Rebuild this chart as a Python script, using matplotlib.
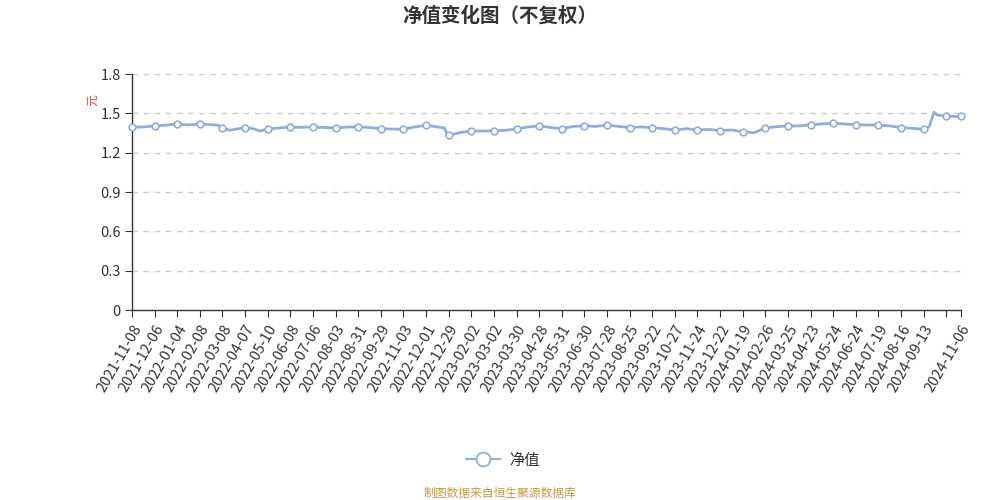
import numpy as np
import matplotlib
matplotlib.use('Agg')
import matplotlib.pyplot as plt
from matplotlib.lines import Line2D

plt.rcParams['font.family'] = ['Noto Sans CJK SC', 'DejaVu Sans']
plt.rcParams['axes.unicode_minus'] = False

# 交易日序号 与 对应净值
day_idx = [0, 10, 20, 30, 40, 50, 60, 70, 76, 80, 86, 100, 108, 113, 120, 130, 140, 150,
           160, 170, 180, 190, 200, 210, 220, 230, 240, 250, 260, 270, 276, 279, 280, 290,
           300, 310, 320, 330, 340, 350, 360, 370, 380, 390, 400, 410, 420, 430, 440, 450,
           460, 470, 480, 490, 500, 510, 520, 530, 540, 550, 560, 570, 580, 590, 600, 610,
           620, 630, 640, 650, 660, 670, 680, 690, 700, 705, 709, 712, 720, 730, 733]
nav = [1.394, 1.396, 1.404, 1.410, 1.419, 1.411, 1.419, 1.414, 1.410, 1.388, 1.371, 1.391,
       1.381, 1.365, 1.381, 1.388, 1.396, 1.394, 1.396, 1.392, 1.388, 1.395, 1.398, 1.392,
       1.383, 1.380, 1.378, 1.396, 1.409, 1.396, 1.390, 1.336, 1.333, 1.353, 1.365, 1.365,
       1.368, 1.370, 1.381, 1.396, 1.404, 1.392, 1.383, 1.400, 1.404, 1.400, 1.411, 1.400,
       1.391, 1.396, 1.391, 1.383, 1.373, 1.383, 1.373, 1.378, 1.368, 1.373, 1.360, 1.352,
       1.388, 1.398, 1.404, 1.404, 1.413, 1.419, 1.424, 1.419, 1.413, 1.411, 1.411, 1.404,
       1.391, 1.386, 1.378, 1.400, 1.508, 1.487, 1.480, 1.475, 1.482]

tick_dates = ['2021-11-08', '2021-12-06', '2022-01-04', '2022-02-08', '2022-03-08', '2022-04-07',
              '2022-05-10', '2022-06-08', '2022-07-06', '2022-08-03', '2022-08-31', '2022-09-29',
              '2022-11-03', '2022-12-01', '2022-12-29', '2023-02-02', '2023-03-02', '2023-03-30',
              '2023-04-28', '2023-05-31', '2023-06-30', '2023-07-28', '2023-08-25', '2023-09-22',
              '2023-10-27', '2023-11-24', '2023-12-22', '2024-01-19', '2024-02-26', '2024-03-25',
              '2024-04-23', '2024-05-24', '2024-06-24', '2024-07-19', '2024-08-16', '2024-09-13',
              '', '2024-11-06']
tick_step = 20

line_color = '#8eade0'
x = np.array(day_idx)
y = np.array(nav)
last = x[-1]
tick_pos = list(range(0, last, tick_step)) + [last]

fig = plt.figure(figsize=(10, 5), dpi=100)
ax = fig.add_axes([0.132, 0.38, 0.829, 0.472])

ax.plot(x, y, color=line_color, lw=2, zorder=3, clip_on=False)
mk = np.isin(x, tick_pos)
ax.plot(x[mk], y[mk], 'o', ms=4.8, mfc='white', mec=line_color, mew=1.2, zorder=4,
        clip_on=False)

ax.set_xlim(0, last)
ax.set_ylim(0, 1.8)
ax.set_yticks(np.arange(0, 1.81, 0.3))
ax.set_yticklabels(['0', '0.3', '0.6', '0.9', '1.2', '1.5', '1.8'])
ax.set_xticks(tick_pos)
ax.set_xticklabels(tick_dates, rotation=60, ha='right', va='top', rotation_mode='anchor')

for v in np.arange(0.3, 1.81, 0.3):
    ax.axhline(v, color='#cccccc', lw=1, ls=(0, (4, 4)), zorder=1)

for s in ['top', 'right']:
    ax.spines[s].set_visible(False)
for s in ['left', 'bottom']:
    ax.spines[s].set_color('#333333')
    ax.spines[s].set_linewidth(1)
ax.tick_params(axis='y', labelsize=10.5, colors='#333333', length=5, pad=3)
ax.tick_params(axis='x', labelsize=10.5, colors='#333333', length=5, pad=4)

fig.text(0.5, 0.968, '净值变化图（不复权）', ha='center', va='center', fontsize=14,
         fontweight='bold', color='#333333')
fig.text(0.093, 0.8, '元', ha='center', va='center', rotation=90, fontsize=8.5, color='#e8413b')

leg_h = Line2D([], [], color=line_color, lw=1.5, marker='o', ms=10, mfc='white',
               mec=line_color, mew=1.3)
fig.legend([leg_h], ['净值'], loc='center', bbox_to_anchor=(0.503, 0.08), frameon=False,
           fontsize=11, handlelength=2.2, handletextpad=0.6, labelcolor='#333333')

fig.text(0.5, 0.014, '制图数据来自恒生聚源数据库', ha='center', va='center', fontsize=8.5,
         color='#c89b3c')

fig.savefig('out.png', dpi=100)
